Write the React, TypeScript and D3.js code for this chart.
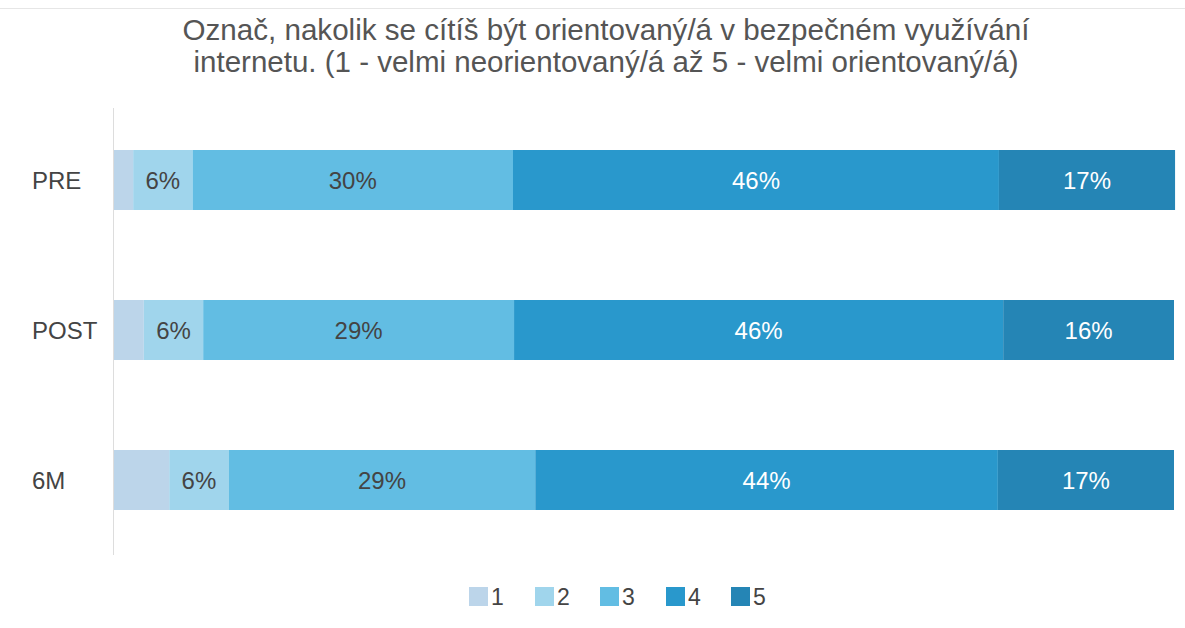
import React from "react";
import * as d3 from "d3";

const title = [
  "Označ, nakolik se cítíš být orientovaný/á v bezpečném využívání",
  "internetu. (1 - velmi neorientovaný/á až 5 - velmi orientovaný/á)",
];
const categories = ["PRE", "POST", "6M"];
const seriesNames = ["1", "2", "3", "4", "5"];
const s1 = [1.9, 2.9, 5.3];
const s2 = [5.6, 5.6, 5.6];
const s3 = [30.2, 29.3, 28.9];
const s4 = [45.8, 46.1, 43.6];
const s5 = [16.6, 16.1, 16.6];
const seriesValues = [s1, s2, s3, s4, s5];
const colors = ["#bcd5ea", "#a0d5ec", "#62bde3", "#2998cc", "#2585b5"];
const labelColors = ["#444", "#444", "#444", "#fff", "#fff"];

export default function App() {
  const W = 1185, H = 628;
  const x = d3.scaleLinear().domain([0, 100]).range([113, 1174]);
  const y = d3.scaleBand().domain(categories).range([112.5, 547.5]).paddingInner(0.6).paddingOuter(0.25);
  const rows = categories.map((c, i) => {
    const obj: any = { cat: c };
    seriesNames.forEach((s, j) => (obj[s] = seriesValues[j][i]));
    return obj;
  });
  const stacked = d3.stack<any>().keys(seriesNames)(rows);
  const fmt = (v: number) => Math.round(v) + "%";
  const legendX = [469, 535, 600, 666, 731];
  return (
    <svg width={W} height={H} style={{ position: "absolute", left: 0, top: 0, background: "#fff" }}
      fontFamily="'Liberation Sans', Arial, sans-serif">
      <rect x={0} y={0} width={W} height={H} fill="#fff" />
      <line x1={0} x2={W} y1={8.5} y2={8.5} stroke="#e6e6e6" strokeWidth={1} />
      {title.map((t, i) => (
        <text key={i} x={606} y={40 + i * 32} textAnchor="middle" fontSize={29} fill="#555"
          textLength={i === 0 ? 847 : 825} lengthAdjust="spacingAndGlyphs">{t}</text>
      ))}
      {stacked.map((layer, j) => (
        <g key={j}>
          {layer.map((d, i) => {
            const x0 = x(d[0]), x1 = x(d[1]);
            const yy = y(categories[i])!;
            const v = d[1] - d[0];
            return (
              <g key={i}>
                <rect x={x0} y={yy} width={x1 - x0} height={y.bandwidth()} fill={colors[j]} />
                {v >= 5.5 && (
                  <text x={(x0 + x1) / 2} y={yy + y.bandwidth() / 2 + 9} textAnchor="middle" fontSize={24}
                    fill={labelColors[j]}>{fmt(v)}</text>
                )}
              </g>
            );
          })}
        </g>
      ))}
      <line x1={113.5} x2={113.5} y1={108} y2={555} stroke="#ddd" strokeWidth={1} />
      {categories.map((c) => (
        <text key={c} x={32} y={y(c)! + y.bandwidth() / 2 + 9} fontSize={24} fill="#444">{c}</text>
      ))}
      {seriesNames.map((s, j) => (
        <g key={s}>
          <rect x={legendX[j]} y={587} width={19} height={19} fill={colors[j]} />
          <text x={legendX[j] + 22} y={605} fontSize={23} fill="#444">{s}</text>
        </g>
      ))}
    </svg>
  );
}
